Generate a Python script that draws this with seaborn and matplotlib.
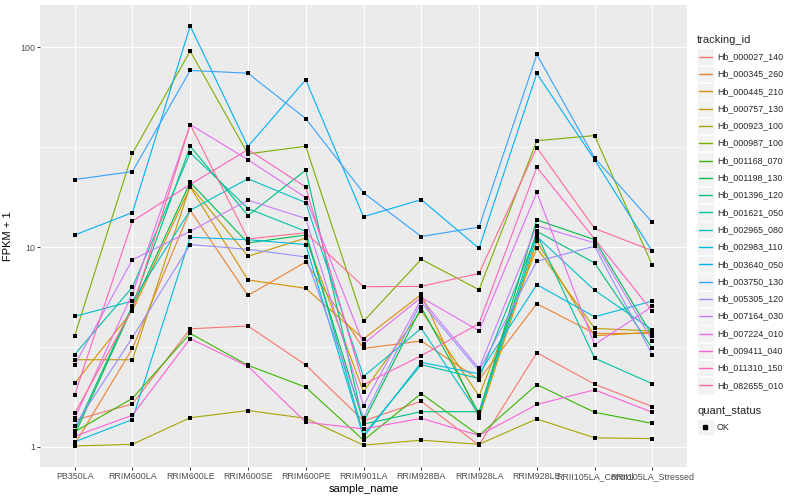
import matplotlib
matplotlib.use('Agg')
import matplotlib.pyplot as plt
import numpy as np
import pandas as pd
import seaborn as sns
from matplotlib.lines import Line2D
from matplotlib.patches import Rectangle

# sample order as shown on the x axis
samples = ['PB350LA', 'RRIM600LA', 'RRIM600LE', 'RRIM600SE', 'RRIM600PE', 'RRIM901LA',
           'RRIM928BA', 'RRIM928LA', 'RRIM928LE', 'RRII105LA_Control', 'RRII105LA_Stressed']

# FPKM + 1 per gene
hb_000027_140 = [1.36, 1.64, 3.9, 4.03, 2.57, 1.35, 1.69, 1.02, 2.96, 2.06, 1.59]
hb_000345_260 = [1.03, 3.11, 15.3, 5.73, 8.43, 3.11, 3.39, 2.17, 5.21, 3.7, 3.7]
hb_000445_210 = [2.08, 4.8, 20.0, 6.85, 6.22, 3.47, 5.8, 1.4, 10.7, 3.6, 3.75]
hb_000757_130 = [2.73, 2.73, 20.3, 9.0, 11.1, 1.89, 4.8, 1.80, 9.9, 3.92, 3.8]
hb_000923_100 = [1.01, 1.03, 1.4, 1.52, 1.39, 1.02, 1.08, 1.03, 1.38, 1.11, 1.10]
hb_000987_100 = [3.6, 29.5, 95.8, 29.3, 32.0, 4.25, 8.69, 6.12, 34.1, 36.2, 8.11]
hb_001168_070 = [1.19, 1.75, 3.7, 2.56, 1.99, 1.08, 1.85, 1.14, 2.05, 1.49, 1.31]
hb_001198_130 = [1.15, 5.0, 21.1, 10.5, 11.5, 1.33, 5.0, 1.47, 13.7, 10.9, 3.6]
hb_001396_120 = [1.2, 5.1, 32.0, 14.4, 24.3, 1.3, 1.50, 1.5, 12.0, 8.33, 3.11]
hb_001621_050 = [2.9, 6.3, 29.7, 15.6, 12.0, 1.15, 2.58, 2.2, 11.6, 2.78, 2.07]
hb_002965_080 = [4.5, 5.37, 15.3, 22.0, 16.7, 2.25, 3.92, 1.45, 11.3, 6.08, 3.85]
hb_002983_110 = [1.06, 1.37, 11.2, 10.9, 10.3, 1.12, 2.65, 2.32, 6.49, 4.48, 5.37]
hb_003640_050 = [11.5, 14.9, 128.0, 31.9, 68.9, 14.2, 17.3, 9.86, 74.1, 27.4, 9.52]
hb_003750_130 = [21.8, 23.9, 76.7, 74.3, 44.0, 18.7, 11.3, 12.6, 92.2, 28.0, 13.3]
hb_005305_120 = [1.27, 3.53, 10.3, 9.75, 8.93, 1.4, 5.3, 2.4, 8.49, 10.1, 2.89]
hb_007164_030 = [2.57, 8.65, 12.0, 17.2, 13.9, 1.61, 5.5, 2.47, 12.8, 10.5, 3.4]
hb_007224_010 = [1.39, 5.85, 41.1, 27.4, 17.7, 3.28, 5.6, 3.81, 18.8, 3.25, 5.05]
hb_009411_040 = [1.13, 1.44, 3.48, 2.53, 1.33, 1.23, 1.39, 1.14, 1.63, 1.93, 1.49]
hb_011310_150 = [1.82, 13.5, 20.6, 30.8, 20.0, 2.05, 2.86, 4.14, 25.1, 11.0, 4.77]
hb_082655_010 = [1.47, 4.9, 41.1, 11.0, 11.8, 6.34, 6.36, 7.39, 31.5, 12.4, 9.6]

tracking_ids = ['Hb_000027_140', 'Hb_000345_260', 'Hb_000445_210', 'Hb_000757_130',
                'Hb_000923_100', 'Hb_000987_100', 'Hb_001168_070', 'Hb_001198_130',
                'Hb_001396_120', 'Hb_001621_050', 'Hb_002965_080', 'Hb_002983_110',
                'Hb_003640_050', 'Hb_003750_130', 'Hb_005305_120', 'Hb_007164_030',
                'Hb_007224_010', 'Hb_009411_040', 'Hb_011310_150', 'Hb_082655_010']
series = [hb_000027_140, hb_000345_260, hb_000445_210, hb_000757_130, hb_000923_100,
          hb_000987_100, hb_001168_070, hb_001198_130, hb_001396_120, hb_001621_050,
          hb_002965_080, hb_002983_110, hb_003640_050, hb_003750_130, hb_005305_120,
          hb_007164_030, hb_007224_010, hb_009411_040, hb_011310_150, hb_082655_010]

# ggplot default hue palette for 20 levels
colors = ['#F8766D', '#EA8331', '#D89000', '#C09B00', '#A3A500', '#7CAE00', '#39B600',
          '#00BB4E', '#00BF7D', '#00C1A3', '#00BFC4', '#00BAE0', '#00B0F6', '#35A2FF',
          '#9590FF', '#C77CFF', '#E76BF3', '#FA62DB', '#FF62BC', '#FF6C91']

rows = []
for tid, vals in zip(tracking_ids, series):
    for s, v in zip(samples, vals):
        rows.append({'tracking_id': tid, 'sample_name': s, 'value': v, 'quant_status': 'OK'})
df = pd.DataFrame(rows)
df['x'] = df['sample_name'].map({s: i for i, s in enumerate(samples)})

sns.set_theme(style='darkgrid', rc={'axes.facecolor': '#EBEBEB', 'grid.color': 'white'})
plt.rcParams['font.family'] = ['Liberation Sans', 'DejaVu Sans']

fig = plt.figure(figsize=(8, 5), dpi=100)
ax = fig.add_axes([40 / 800, 1 - 467 / 500, (687 - 40) / 800, (467 - 5) / 500])

palette = dict(zip(tracking_ids, colors))
sns.lineplot(data=df, x='x', y='value', hue='tracking_id', palette=palette,
             hue_order=tracking_ids, sort=False, linewidth=0.8, legend=False, ax=ax)
sns.scatterplot(data=df, x='x', y='value', color='black', marker='s', s=6,
                linewidth=0, legend=False, ax=ax, zorder=5)

ax.set_yscale('log')
lo, hi = np.log10(df['value'].min()), np.log10(df['value'].max())
pad = (hi - lo) * 0.05
ax.set_ylim(10 ** (lo - pad), 10 ** (hi + pad))
ax.set_xlim(-0.6, len(samples) - 0.4)
ax.set_yticks([1, 10, 100])
ax.set_yticklabels(['1', '10', '100'])
ax.set_yticks([10 ** 0.5, 10 ** 1.5], minor=True)
ax.set_xticks(range(len(samples)))
ax.set_xticklabels(samples)
ax.grid(which='major', color='white', linewidth=0.8)
ax.grid(which='minor', axis='y', color='white', linewidth=0.4)
ax.tick_params(axis='both', which='major', length=2, width=0.7, color='#333333',
               labelsize=6.4, labelcolor='#4D4D4D', pad=1.5, bottom=True, left=True)
ax.tick_params(axis='y', which='minor', length=0, left=False)
for sp in ax.spines.values():
    sp.set_visible(False)
ax.set_xlabel('sample_name', fontsize=8, color='black', labelpad=2)
ax.set_ylabel('FPKM + 1', fontsize=8, color='black', labelpad=5)

# legend drawn ggplot-style in pixel coordinates
def fx(px):
    return px / 800

def fy(py):
    return 1 - py / 500

fig.text(fx(697), fy(40), 'tracking_id', fontsize=8, va='center', ha='left')
for i, (tid, c) in enumerate(zip(tracking_ids, colors)):
    yc = 56.7 + i * 17.3
    fig.add_artist(Rectangle((fx(697), fy(yc + 8.3)), 16.6 / 800, 16.6 / 500,
                             transform=fig.transFigure, facecolor='#F2F2F2',
                             edgecolor='white', linewidth=0.5, zorder=1))
    fig.add_artist(Line2D([fx(699), fx(712)], [fy(yc), fy(yc)], color=c, linewidth=1.0,
                          transform=fig.transFigure, zorder=3))
    fig.text(fx(717), fy(yc), tid, fontsize=6.4, va='center', ha='left')

fig.text(fx(697), fy(411), 'quant_status', fontsize=8, va='center', ha='left')
fig.add_artist(Rectangle((fx(697), fy(427 + 8.3)), 16.6 / 800, 16.6 / 500,
                         transform=fig.transFigure, facecolor='#F2F2F2',
                         edgecolor='white', linewidth=0.5, zorder=1))
fig.add_artist(Line2D([fx(705.3)], [fy(427)], color='black', marker='s', markersize=2.4,
                      linestyle='none', transform=fig.transFigure, zorder=3))
fig.text(fx(717), fy(427), 'OK', fontsize=6.4, va='center', ha='left')

fig.savefig('out.png', dpi=100)
